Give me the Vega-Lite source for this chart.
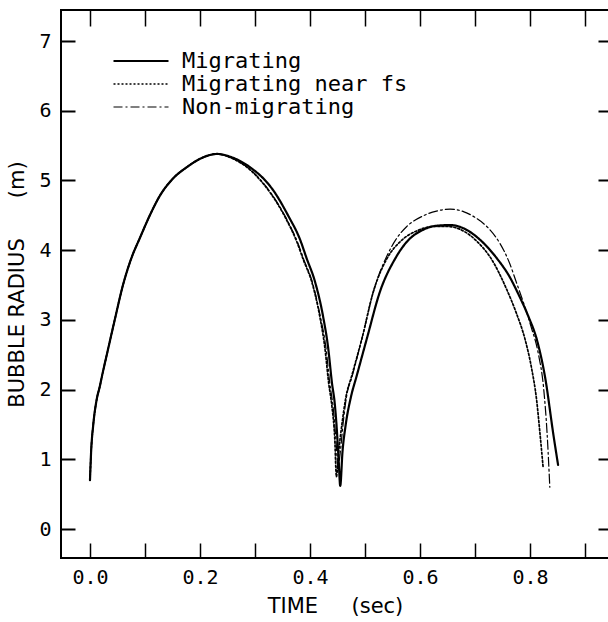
{
  "$schema": "https://vega.github.io/schema/vega-lite/v6.json",
  "width": 548,
  "height": 548,
  "autosize": {"type": "none"},
  "padding": {"left": 61, "top": 10, "right": 0, "bottom": 64},
  "background": "white",
  "config": {
    "view": {"stroke": "black", "strokeWidth": 2},
    "axis": {"grid": false, "domainColor": "black", "tickColor": "black", "labelColor": "black", "titleColor": "black"}
  },
  "datasets": {
    "curves": [
      {"series": "Migrating", "t": 0.000, "r": 0.70},
      {"series": "Migrating", "t": 0.002, "r": 1.10},
      {"series": "Migrating", "t": 0.006, "r": 1.50},
      {"series": "Migrating", "t": 0.012, "r": 1.85},
      {"series": "Migrating", "t": 0.018, "r": 2.05},
      {"series": "Migrating", "t": 0.022, "r": 2.20},
      {"series": "Migrating", "t": 0.032, "r": 2.55},
      {"series": "Migrating", "t": 0.045, "r": 3.00},
      {"series": "Migrating", "t": 0.060, "r": 3.50},
      {"series": "Migrating", "t": 0.075, "r": 3.88},
      {"series": "Migrating", "t": 0.091, "r": 4.18},
      {"series": "Migrating", "t": 0.110, "r": 4.52},
      {"series": "Migrating", "t": 0.127, "r": 4.78},
      {"series": "Migrating", "t": 0.150, "r": 5.02},
      {"series": "Migrating", "t": 0.176, "r": 5.19},
      {"series": "Migrating", "t": 0.200, "r": 5.31},
      {"series": "Migrating", "t": 0.231, "r": 5.38},
      {"series": "Migrating", "t": 0.255, "r": 5.34},
      {"series": "Migrating", "t": 0.275, "r": 5.27},
      {"series": "Migrating", "t": 0.296, "r": 5.16},
      {"series": "Migrating", "t": 0.315, "r": 5.03},
      {"series": "Migrating", "t": 0.333, "r": 4.86},
      {"series": "Migrating", "t": 0.360, "r": 4.50},
      {"series": "Migrating", "t": 0.382, "r": 4.15},
      {"series": "Migrating", "t": 0.394, "r": 3.88},
      {"series": "Migrating", "t": 0.409, "r": 3.55},
      {"series": "Migrating", "t": 0.424, "r": 3.04},
      {"series": "Migrating", "t": 0.433, "r": 2.60},
      {"series": "Migrating", "t": 0.440, "r": 2.09},
      {"series": "Migrating", "t": 0.445, "r": 1.80},
      {"series": "Migrating", "t": 0.449, "r": 1.40},
      {"series": "Migrating", "t": 0.452, "r": 1.00},
      {"series": "Migrating", "t": 0.455, "r": 0.62},
      {"series": "Migrating", "t": 0.459, "r": 1.10},
      {"series": "Migrating", "t": 0.465, "r": 1.50},
      {"series": "Migrating", "t": 0.474, "r": 1.88},
      {"series": "Migrating", "t": 0.485, "r": 2.20},
      {"series": "Migrating", "t": 0.504, "r": 2.75},
      {"series": "Migrating", "t": 0.527, "r": 3.40},
      {"series": "Migrating", "t": 0.555, "r": 3.88},
      {"series": "Migrating", "t": 0.576, "r": 4.12},
      {"series": "Migrating", "t": 0.605, "r": 4.29},
      {"series": "Migrating", "t": 0.630, "r": 4.35},
      {"series": "Migrating", "t": 0.655, "r": 4.36},
      {"series": "Migrating", "t": 0.685, "r": 4.29},
      {"series": "Migrating", "t": 0.709, "r": 4.15},
      {"series": "Migrating", "t": 0.740, "r": 3.88},
      {"series": "Migrating", "t": 0.762, "r": 3.63},
      {"series": "Migrating", "t": 0.780, "r": 3.35},
      {"series": "Migrating", "t": 0.797, "r": 3.05},
      {"series": "Migrating", "t": 0.813, "r": 2.70},
      {"series": "Migrating", "t": 0.828, "r": 2.15},
      {"series": "Migrating", "t": 0.842, "r": 1.38},
      {"series": "Migrating", "t": 0.851, "r": 0.92},

      {"series": "Migrating near fs", "t": 0.000, "r": 0.70},
      {"series": "Migrating near fs", "t": 0.002, "r": 1.10},
      {"series": "Migrating near fs", "t": 0.006, "r": 1.50},
      {"series": "Migrating near fs", "t": 0.012, "r": 1.85},
      {"series": "Migrating near fs", "t": 0.018, "r": 2.05},
      {"series": "Migrating near fs", "t": 0.022, "r": 2.20},
      {"series": "Migrating near fs", "t": 0.032, "r": 2.55},
      {"series": "Migrating near fs", "t": 0.045, "r": 3.00},
      {"series": "Migrating near fs", "t": 0.060, "r": 3.50},
      {"series": "Migrating near fs", "t": 0.075, "r": 3.88},
      {"series": "Migrating near fs", "t": 0.091, "r": 4.18},
      {"series": "Migrating near fs", "t": 0.110, "r": 4.52},
      {"series": "Migrating near fs", "t": 0.127, "r": 4.78},
      {"series": "Migrating near fs", "t": 0.150, "r": 5.02},
      {"series": "Migrating near fs", "t": 0.176, "r": 5.19},
      {"series": "Migrating near fs", "t": 0.200, "r": 5.31},
      {"series": "Migrating near fs", "t": 0.231, "r": 5.38},
      {"series": "Migrating near fs", "t": 0.255, "r": 5.33},
      {"series": "Migrating near fs", "t": 0.270, "r": 5.27},
      {"series": "Migrating near fs", "t": 0.290, "r": 5.16},
      {"series": "Migrating near fs", "t": 0.310, "r": 5.00},
      {"series": "Migrating near fs", "t": 0.328, "r": 4.82},
      {"series": "Migrating near fs", "t": 0.355, "r": 4.47},
      {"series": "Migrating near fs", "t": 0.376, "r": 4.12},
      {"series": "Migrating near fs", "t": 0.388, "r": 3.86},
      {"series": "Migrating near fs", "t": 0.403, "r": 3.55},
      {"series": "Migrating near fs", "t": 0.418, "r": 3.04},
      {"series": "Migrating near fs", "t": 0.427, "r": 2.60},
      {"series": "Migrating near fs", "t": 0.434, "r": 2.09},
      {"series": "Migrating near fs", "t": 0.440, "r": 1.75},
      {"series": "Migrating near fs", "t": 0.445, "r": 1.30},
      {"series": "Migrating near fs", "t": 0.448, "r": 0.75},
      {"series": "Migrating near fs", "t": 0.452, "r": 1.10},
      {"series": "Migrating near fs", "t": 0.458, "r": 1.50},
      {"series": "Migrating near fs", "t": 0.465, "r": 1.88},
      {"series": "Migrating near fs", "t": 0.476, "r": 2.20},
      {"series": "Migrating near fs", "t": 0.495, "r": 2.75},
      {"series": "Migrating near fs", "t": 0.515, "r": 3.40},
      {"series": "Migrating near fs", "t": 0.540, "r": 3.88},
      {"series": "Migrating near fs", "t": 0.565, "r": 4.13},
      {"series": "Migrating near fs", "t": 0.595, "r": 4.28},
      {"series": "Migrating near fs", "t": 0.625, "r": 4.34},
      {"series": "Migrating near fs", "t": 0.650, "r": 4.34},
      {"series": "Migrating near fs", "t": 0.680, "r": 4.27},
      {"series": "Migrating near fs", "t": 0.703, "r": 4.13},
      {"series": "Migrating near fs", "t": 0.730, "r": 3.87},
      {"series": "Migrating near fs", "t": 0.758, "r": 3.43},
      {"series": "Migrating near fs", "t": 0.775, "r": 3.10},
      {"series": "Migrating near fs", "t": 0.791, "r": 2.72},
      {"series": "Migrating near fs", "t": 0.803, "r": 2.30},
      {"series": "Migrating near fs", "t": 0.812, "r": 1.85},
      {"series": "Migrating near fs", "t": 0.818, "r": 1.38},
      {"series": "Migrating near fs", "t": 0.824, "r": 0.87},

      {"series": "Non-migrating", "t": 0.000, "r": 0.70},
      {"series": "Non-migrating", "t": 0.002, "r": 1.10},
      {"series": "Non-migrating", "t": 0.006, "r": 1.50},
      {"series": "Non-migrating", "t": 0.012, "r": 1.85},
      {"series": "Non-migrating", "t": 0.018, "r": 2.05},
      {"series": "Non-migrating", "t": 0.022, "r": 2.20},
      {"series": "Non-migrating", "t": 0.032, "r": 2.55},
      {"series": "Non-migrating", "t": 0.045, "r": 3.00},
      {"series": "Non-migrating", "t": 0.060, "r": 3.50},
      {"series": "Non-migrating", "t": 0.075, "r": 3.88},
      {"series": "Non-migrating", "t": 0.091, "r": 4.18},
      {"series": "Non-migrating", "t": 0.110, "r": 4.52},
      {"series": "Non-migrating", "t": 0.127, "r": 4.78},
      {"series": "Non-migrating", "t": 0.150, "r": 5.02},
      {"series": "Non-migrating", "t": 0.176, "r": 5.19},
      {"series": "Non-migrating", "t": 0.200, "r": 5.31},
      {"series": "Non-migrating", "t": 0.231, "r": 5.38},
      {"series": "Non-migrating", "t": 0.255, "r": 5.33},
      {"series": "Non-migrating", "t": 0.271, "r": 5.27},
      {"series": "Non-migrating", "t": 0.291, "r": 5.16},
      {"series": "Non-migrating", "t": 0.311, "r": 5.00},
      {"series": "Non-migrating", "t": 0.329, "r": 4.82},
      {"series": "Non-migrating", "t": 0.356, "r": 4.47},
      {"series": "Non-migrating", "t": 0.377, "r": 4.12},
      {"series": "Non-migrating", "t": 0.389, "r": 3.86},
      {"series": "Non-migrating", "t": 0.404, "r": 3.55},
      {"series": "Non-migrating", "t": 0.419, "r": 3.04},
      {"series": "Non-migrating", "t": 0.429, "r": 2.60},
      {"series": "Non-migrating", "t": 0.436, "r": 2.09},
      {"series": "Non-migrating", "t": 0.442, "r": 1.75},
      {"series": "Non-migrating", "t": 0.447, "r": 1.30},
      {"series": "Non-migrating", "t": 0.451, "r": 0.88},
      {"series": "Non-migrating", "t": 0.455, "r": 1.10},
      {"series": "Non-migrating", "t": 0.460, "r": 1.50},
      {"series": "Non-migrating", "t": 0.466, "r": 1.88},
      {"series": "Non-migrating", "t": 0.477, "r": 2.20},
      {"series": "Non-migrating", "t": 0.495, "r": 2.75},
      {"series": "Non-migrating", "t": 0.515, "r": 3.40},
      {"series": "Non-migrating", "t": 0.540, "r": 3.92},
      {"series": "Non-migrating", "t": 0.556, "r": 4.15},
      {"series": "Non-migrating", "t": 0.576, "r": 4.34},
      {"series": "Non-migrating", "t": 0.605, "r": 4.49},
      {"series": "Non-migrating", "t": 0.630, "r": 4.56},
      {"series": "Non-migrating", "t": 0.655, "r": 4.59},
      {"series": "Non-migrating", "t": 0.680, "r": 4.55},
      {"series": "Non-migrating", "t": 0.700, "r": 4.47},
      {"series": "Non-migrating", "t": 0.725, "r": 4.31},
      {"series": "Non-migrating", "t": 0.745, "r": 4.10},
      {"series": "Non-migrating", "t": 0.762, "r": 3.83},
      {"series": "Non-migrating", "t": 0.776, "r": 3.52},
      {"series": "Non-migrating", "t": 0.788, "r": 3.25},
      {"series": "Non-migrating", "t": 0.802, "r": 2.90},
      {"series": "Non-migrating", "t": 0.815, "r": 2.52},
      {"series": "Non-migrating", "t": 0.825, "r": 2.00},
      {"series": "Non-migrating", "t": 0.831, "r": 1.38},
      {"series": "Non-migrating", "t": 0.836, "r": 0.60}
    ]
  },
  "data": {"name": "curves"},
  "resolve": {"axis": {"x": "independent", "y": "independent"}},
  "layer": [
    {
      "mark": {"type": "line", "color": "black", "interpolate": "monotone", "strokeCap": "round", "strokeJoin": "round", "clip": true},
      "encoding": {
        "x": {
          "field": "t", "type": "quantitative",
          "scale": {"domain": [-0.0527, 0.9436], "nice": false, "zero": false},
          "axis": {
            "orient": "bottom",
            "title": "TIME\u00a0\u00a0\u00a0\u00a0\u00a0(sec)",
            "titleFont": "DejaVu Sans", "titleFontSize": 21, "titleFontWeight": "normal",
            "titlePadding": 8,
            "values": [0, 0.2, 0.4, 0.6, 0.8],
            "format": ".1f",
            "labelFont": "DejaVu Sans Mono", "labelFontSize": 20,
            "labelPadding": 9,
            "ticks": false, "tickSize": 0,
            "domain": false
          }
        },
        "y": {
          "field": "r", "type": "quantitative",
          "scale": {"domain": [-0.416, 7.445], "nice": false, "zero": false},
          "axis": {
            "orient": "left",
            "title": "BUBBLE RADIUS\u00a0\u00a0\u00a0\u00a0\u00a0\u00a0(m)",
            "titleFont": "DejaVu Sans", "titleFontSize": 21, "titleFontWeight": "normal",
            "titlePadding": 11,
            "values": [0, 1, 2, 3, 4, 5, 6, 7],
            "format": "d",
            "labelFont": "DejaVu Sans Mono", "labelFontSize": 20,
            "labelPadding": 10,
            "ticks": false, "tickSize": 0,
            "domain": false
          }
        },
        "strokeDash": {
          "field": "series", "type": "nominal",
          "scale": {"domain": ["Migrating", "Migrating near fs", "Non-migrating"], "range": [[1, 0], [2, 2], [9, 3, 2, 3]]},
          "legend": {
            "title": null,
            "orient": "none",
            "legendX": 69,
            "legendY": 40,
            "symbolType": "M-5,0H5",
            "symbolSize": 121,
            "symbolStrokeColor": "black",
            "symbolFillColor": "transparent",
            "labelFont": "DejaVu Sans Mono",
            "labelFontSize": 22,
            "labelColor": "black",
            "labelLimit": 0,
            "labelOffset": 30,
            "rowPadding": 1
          }
        },
        "strokeWidth": {
          "field": "series", "type": "nominal",
          "scale": {"domain": ["Migrating", "Migrating near fs", "Non-migrating"], "range": [2.2, 1.2, 1.3]}
        }
      }
    },
    {
      "mark": {"type": "line", "opacity": 0},
      "encoding": {
        "x": {
          "field": "t", "type": "quantitative",
          "axis": {"orient": "bottom", "offset": -15, "tickSize": 15, "tickWidth": 1.5, "labels": false, "domain": false, "title": null,
                   "values": [0, 0.1, 0.2, 0.3, 0.4, 0.5, 0.6, 0.7, 0.8, 0.9]}
        },
        "y": {
          "field": "r", "type": "quantitative",
          "axis": {"orient": "left", "offset": -14, "tickSize": 14, "tickWidth": 2, "labels": false, "domain": false, "title": null,
                   "values": [0, 1, 2, 3, 4, 5, 6, 7]}
        },
        "detail": {"field": "series"}
      }
    },
    {
      "mark": {"type": "line", "opacity": 0},
      "encoding": {
        "x": {
          "field": "t", "type": "quantitative",
          "axis": {"orient": "top", "offset": -16, "tickSize": 16, "tickWidth": 1.5, "labels": false, "domain": false, "title": null,
                   "values": [0, 0.1, 0.2, 0.3, 0.4, 0.5, 0.6, 0.7, 0.8, 0.9]}
        },
        "y": {
          "field": "r", "type": "quantitative",
          "axis": {"orient": "right", "offset": -11, "tickSize": 11, "tickWidth": 2, "labels": false, "domain": false, "title": null,
                   "values": [0, 1, 2, 3, 4, 5, 6, 7]}
        },
        "detail": {"field": "series"}
      }
    }
  ]
}
